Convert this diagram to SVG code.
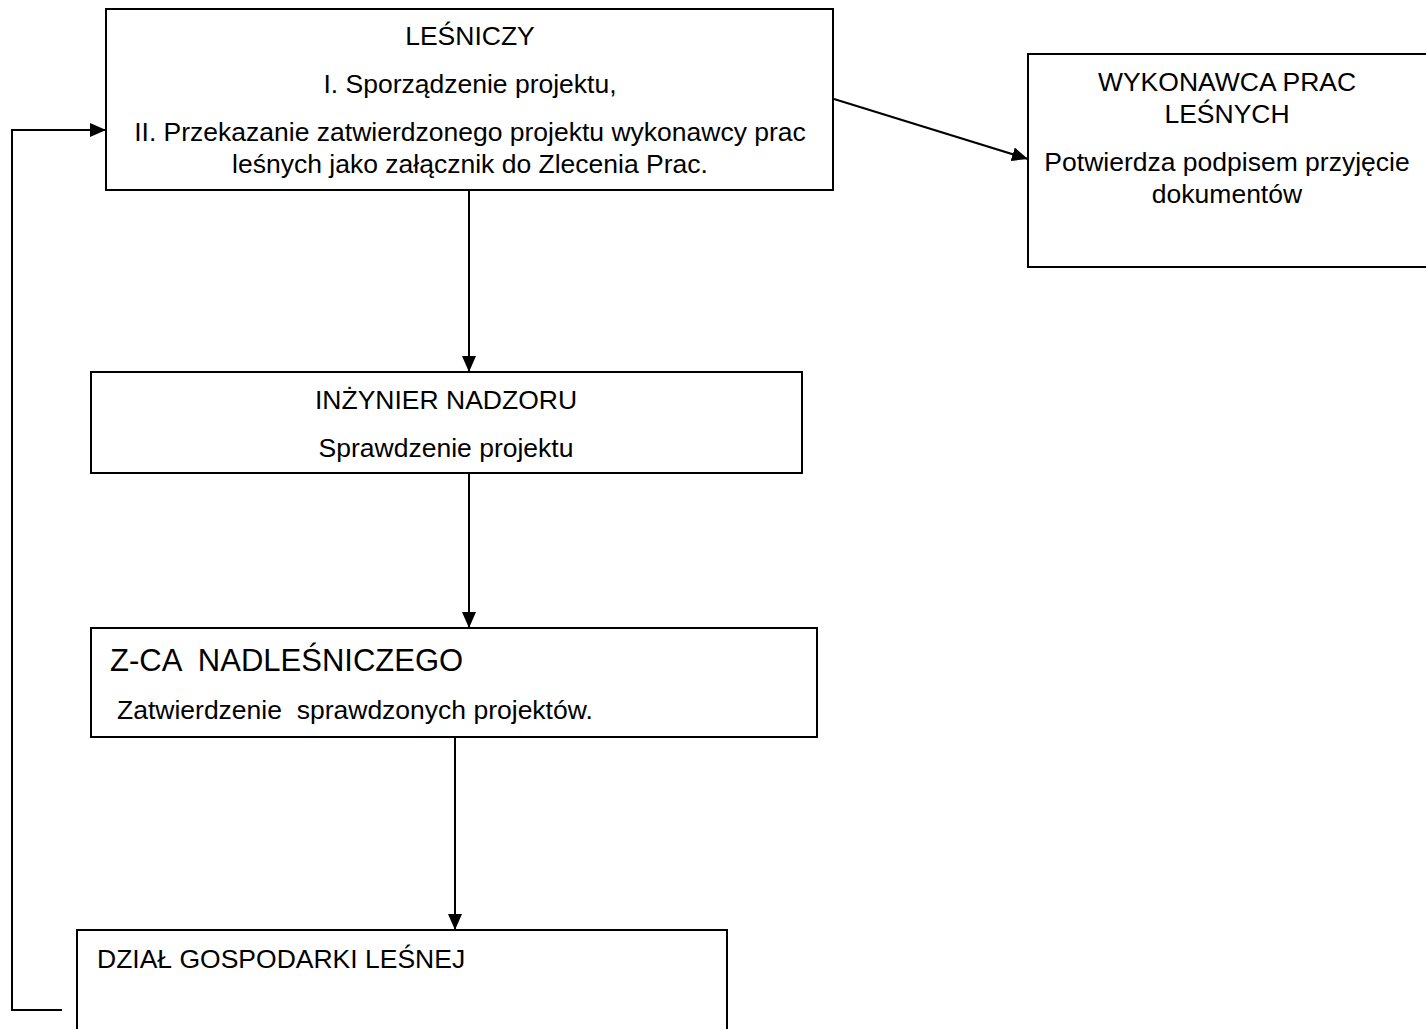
<svg xmlns="http://www.w3.org/2000/svg" width="1426" height="1029" viewBox="0 0 1426 1029">
<defs>
<style>
.box{fill:#fff;stroke:#000;stroke-width:2}
.t{font-family:"Liberation Sans",Arial,sans-serif;font-size:26.5px;fill:#000}
.c{text-anchor:middle}
.big{font-size:31px}
.ln{fill:none;stroke:#000;stroke-width:2}
</style>
<marker id="ah" viewBox="0 0 16 14" refX="16" refY="7" markerWidth="16" markerHeight="14" markerUnits="userSpaceOnUse" orient="auto">
<path d="M0,0 L16,7 L0,14 Z" fill="#000"/>
</marker>
</defs>
<rect width="1426" height="1029" fill="#fff"/>
<g id="connectors">
<line class="ln" x1="469" y1="190" x2="469" y2="372" marker-end="url(#ah)"/>
<line class="ln" x1="469" y1="473" x2="469" y2="628" marker-end="url(#ah)"/>
<line class="ln" x1="455" y1="737" x2="455" y2="930" marker-end="url(#ah)"/>
<line class="ln" x1="834" y1="99" x2="1028" y2="159" marker-end="url(#ah)"/>
<polyline class="ln" points="62,1010 12,1010 12,130 106,130" marker-end="url(#ah)"/>
</g>
<g id="lesniczy">
<rect class="box" x="106" y="9" width="727" height="181"/>
<text class="t c" x="470" y="45">LEŚNICZY</text>
<text class="t c" x="470" y="93">I. Sporządzenie projektu,</text>
<text class="t c" x="470" y="141">II. Przekazanie zatwierdzonego projektu wykonawcy prac</text>
<text class="t c" x="470" y="173">leśnych jako załącznik do Zlecenia Prac.</text>
</g>
<g id="wykonawca">
<rect class="box" x="1028" y="54" width="400" height="213"/>
<text class="t c" x="1227" y="91">WYKONAWCA PRAC</text>
<text class="t c" x="1227" y="123">LEŚNYCH</text>
<text class="t c" x="1227" y="171">Potwierdza podpisem przyjęcie</text>
<text class="t c" x="1227" y="203">dokumentów</text>
</g>
<g id="inzynier">
<rect class="box" x="91" y="372" width="711" height="101"/>
<text class="t c" x="446" y="409">INŻYNIER NADZORU</text>
<text class="t c" x="446" y="457">Sprawdzenie projektu</text>
</g>
<g id="zca">
<rect class="box" x="91" y="628" width="726" height="109"/>
<text class="t big" x="110" y="671" xml:space="preserve">Z-CA  NADLEŚNICZEGO</text>
<text class="t" x="117" y="719" xml:space="preserve">Zatwierdzenie  sprawdzonych projektów.</text>
</g>
<g id="dzial">
<rect class="box" x="77" y="930" width="650" height="110"/>
<text class="t" x="97" y="968">DZIAŁ GOSPODARKI LEŚNEJ</text>
</g>
</svg>
